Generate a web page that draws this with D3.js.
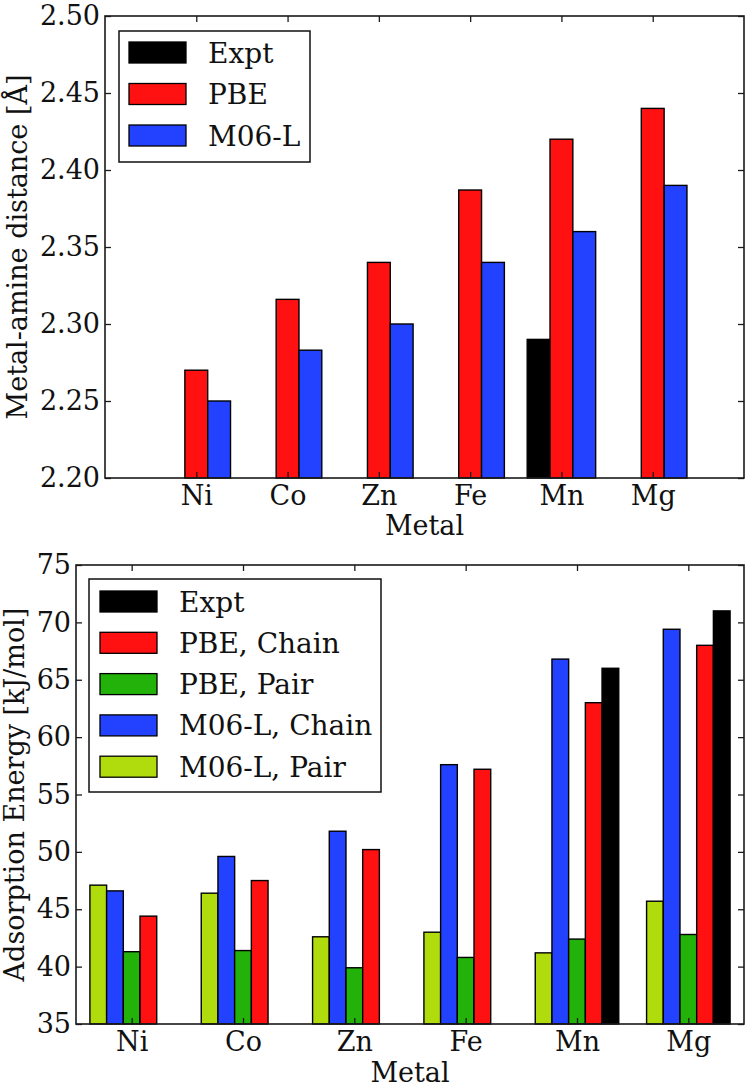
<!DOCTYPE html>
<html>
<head>
<meta charset="utf-8">
<script src="https://cdn.jsdelivr.net/npm/d3@7"></script>
<style>
  html, body { margin: 0; padding: 0; background: #fff; }
  svg { display: block; }
  text { font-family: "DejaVu Serif", serif; fill: #111; }
</style>
</head>
<body>
<svg id="chart" width="749" height="1088"></svg>
<script>
// ---------- data ----------
const categories = ["Ni", "Co", "Zn", "Fe", "Mn", "Mg"];

// Top panel: metal-amine distance [Å]
const distExpt = [null, null, null, null, 2.29, null];
const distPBE  = [2.27, 2.316, 2.34, 2.387, 2.42, 2.44];
const distM06L = [2.25, 2.283, 2.30, 2.34, 2.36, 2.39];
const distTicks = [2.20, 2.25, 2.30, 2.35, 2.40, 2.45, 2.50];

// Bottom panel: adsorption energy [kJ/mol]
const energyM06LPair  = [47.1, 46.4, 42.6, 43.0, 41.2, 45.7];
const energyM06LChain = [46.6, 49.6, 51.8, 57.6, 66.8, 69.4];
const energyPBEPair   = [41.3, 41.4, 39.9, 40.8, 42.4, 42.8];
const energyPBEChain  = [44.4, 47.5, 50.2, 57.2, 63.0, 68.0];
const energyExpt      = [null, null, null, null, 66.0, 71.0];
const energyTicks = [35, 40, 45, 50, 55, 60, 65, 70, 75];

const topLegend = ["Expt", "PBE", "M06-L"];
const bottomLegend = ["Expt", "PBE, Chain", "PBE, Pair", "M06-L, Chain", "M06-L, Pair"];

// ---------- styles ----------
const C = { black: "#000000", red: "#ff1111", blue: "#2242ff", green: "#22b20a", lime: "#b0dc0e" };
const FS_TICK = 27, FS_LABEL = 27, FS_LEG = 28;
const svg = d3.select("#chart");
svg.append("rect").attr("width", 749).attr("height", 1088).attr("fill", "#fff");

function panel(cfg) {
  const { left, right, top, bottom, xDomain, yDomain, yTicks, yFmt, series, barW, legend, ylabel, ylabelX, xlabelY } = cfg;
  const g = svg.append("g");
  const x = d3.scaleLinear().domain(xDomain).range([left, right]);
  const y = d3.scaleLinear().domain(yDomain).range([bottom, top]);

  // bars
  series.forEach(s => {
    const pts = s.values.map((v, i) => ({ v, i })).filter(d => d.v != null);
    g.selectAll(null).data(pts).enter().append("rect")
      .attr("x", d => x(d.i + s.offset))
      .attr("width", d => x(d.i + s.offset + barW) - x(d.i + s.offset))
      .attr("y", d => y(d.v))
      .attr("height", d => y(yDomain[0]) - y(d.v))
      .attr("fill", s.color)
      .attr("stroke", "#000")
      .attr("stroke-width", 1.4);
  });

  const xt = d3.range(categories.length);
  const tickStyle = sel => {
    sel.select(".domain").remove();
    sel.selectAll(".tick line").attr("stroke", "#1a1a1a").attr("stroke-width", 1.3);
    sel.selectAll("text").style("font-size", FS_TICK + "px").style("font-family", "DejaVu Serif").attr("fill", "#111");
  };
  // axes (ticks inward)
  g.append("g").attr("transform", `translate(0,${bottom})`)
    .call(d3.axisBottom(x).tickValues(xt).tickFormat(i => categories[i]).tickSize(-6).tickPadding(8))
    .call(tickStyle);
  g.append("g").attr("transform", `translate(0,${top})`)
    .call(d3.axisTop(x).tickValues(xt).tickFormat("").tickSize(-6))
    .call(tickStyle);
  g.append("g").attr("transform", `translate(${left},0)`)
    .call(d3.axisLeft(y).tickValues(yTicks).tickFormat(yFmt).tickSize(-6).tickPadding(5))
    .call(tickStyle);
  g.append("g").attr("transform", `translate(${right},0)`)
    .call(d3.axisRight(y).tickValues(yTicks).tickFormat("").tickSize(-6))
    .call(tickStyle);

  // frame
  g.append("rect").attr("x", left).attr("y", top)
    .attr("width", right - left).attr("height", bottom - top)
    .attr("fill", "none").attr("stroke", "#1a1a1a").attr("stroke-width", 1.6);

  // axis labels
  g.append("text").attr("x", (left + right) / 2).attr("y", xlabelY)
    .attr("text-anchor", "middle").style("font-size", FS_LABEL + "px").text("Metal");
  g.append("text")
    .attr("transform", `translate(${ylabelX},${(top + bottom) / 2}) rotate(-90)`)
    .attr("text-anchor", "middle").style("font-size", FS_LABEL + "px").text(ylabel);

  // legend
  const L = legend;
  const lg = g.append("g");
  lg.append("rect").attr("x", L.x).attr("y", L.y).attr("width", L.w).attr("height", L.h)
    .attr("fill", "#fff").attr("stroke", "#111").attr("stroke-width", 1.5);
  L.items.forEach((it, k) => {
    const cy = L.firstY + k * L.step;
    lg.append("rect").attr("x", L.patchX).attr("y", cy - 10.5).attr("width", 57).attr("height", 21)
      .attr("fill", it.color).attr("stroke", "#000").attr("stroke-width", 1.3);
    lg.append("text").attr("x", L.textX).attr("y", cy).attr("dy", "0.36em")
      .style("font-size", FS_LEG + "px").text(it.label);
  });
}

// ---------- top panel ----------
panel({
  left: 105, right: 744, top: 16, bottom: 478,
  xDomain: [-1, 6], yDomain: [2.20, 2.50], yTicks: distTicks, yFmt: d3.format(".2f"),
  barW: 0.25,
  series: [
    { values: distExpt, color: C.black, offset: -0.375 },
    { values: distPBE,  color: C.red,   offset: -0.125 },
    { values: distM06L, color: C.blue,  offset: 0.125 }
  ],
  legend: {
    x: 119, y: 31, w: 191, h: 131, patchX: 129, textX: 208, firstY: 52.5, step: 41.5,
    items: [
      { label: topLegend[0], color: C.black },
      { label: topLegend[1], color: C.red },
      { label: topLegend[2], color: C.blue }
    ]
  },
  ylabel: "Metal-amine distance [Å]", ylabelX: 27, xlabelY: 535
});

// ---------- bottom panel ----------
panel({
  left: 76, right: 744, top: 565, bottom: 1024,
  xDomain: [-0.5, 5.5], yDomain: [35, 75], yTicks: energyTicks, yFmt: d3.format("d"),
  barW: 0.15,
  series: [
    { values: energyM06LPair,  color: C.lime,  offset: -0.375 },
    { values: energyM06LChain, color: C.blue,  offset: -0.225 },
    { values: energyPBEPair,   color: C.green, offset: -0.075 },
    { values: energyPBEChain,  color: C.red,   offset: 0.075 },
    { values: energyExpt,      color: C.black, offset: 0.225 }
  ],
  legend: {
    x: 89, y: 579, w: 292, h: 213, patchX: 100, textX: 179, firstY: 601.5, step: 41.3,
    items: [
      { label: bottomLegend[0], color: C.black },
      { label: bottomLegend[1], color: C.red },
      { label: bottomLegend[2], color: C.green },
      { label: bottomLegend[3], color: C.blue },
      { label: bottomLegend[4], color: C.lime }
    ]
  },
  ylabel: "Adsorption Energy [kJ/mol]", ylabelX: 24, xlabelY: 1082
});
</script>
</body>
</html>
